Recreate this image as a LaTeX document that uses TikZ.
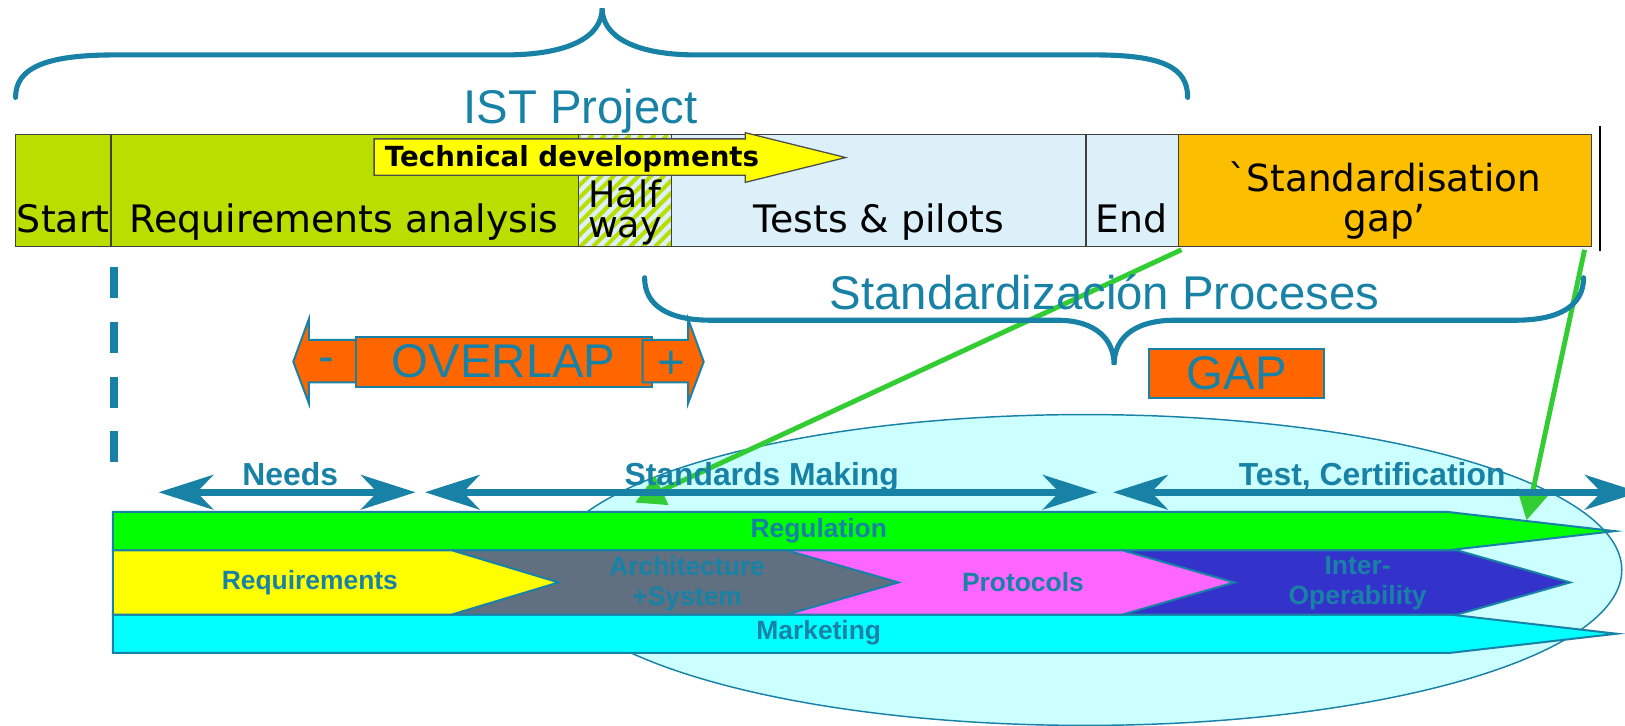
\documentclass[tikz,border=0pt]{standalone}
\usepackage{fontspec}
\setmainfont{Liberation Sans}
\newfontfamily\verdana{DejaVu Sans}
\usetikzlibrary{arrows.meta, positioning, calc}

\definecolor{istblue}{RGB}{24,130,166}
\definecolor{limeline}{RGB}{50,205,50}
\definecolor{phasegreen}{RGB}{186,222,0}
\definecolor{phaseblue}{RGB}{220,240,250}
\definecolor{phasegap}{RGB}{252,190,0}
\definecolor{overlaporange}{RGB}{255,102,0}
\definecolor{cloudcyan}{RGB}{204,255,255}
\definecolor{reggreen}{RGB}{0,255,0}
\definecolor{reqyellow}{RGB}{255,255,0}
\definecolor{archgray}{RGB}{96,112,128}
\definecolor{protopink}{RGB}{255,102,255}
\definecolor{interblue}{RGB}{51,51,204}
\definecolor{marketcyan}{RGB}{0,255,255}

\tikzset{
  phase/.style={draw=black!75, line width=0.7pt},
  phasetext/.style={font=\verdana\fontsize{20.8}{17}\selectfont, inner sep=0pt, anchor=base},
  bigblue/.style={text=istblue, font=\fontsize{26}{28}\selectfont, inner sep=0pt},
  curly/.style={draw=istblue, line width=2.8pt, line cap=round},
  orangebox/.style={draw=istblue, fill=overlaporange, line width=1.1pt},
  spanarrow/.style={draw=istblue, line width=4pt,
    arrows={Stealth[length=30pt,width=19pt,inset=9pt]-Stealth[length=30pt,width=19pt,inset=9pt]}},
  spantext/.style={text=istblue, font=\bfseries\fontsize{17.5}{19}\selectfont, inner sep=0pt, anchor=base},
  track/.style={draw=istblue, line width=1.1pt},
  tracktext/.style={text=istblue, font=\bfseries\fontsize{14.5}{16.5}\selectfont, align=center, inner sep=0pt},
  greenpointer/.style={draw=limeline, line width=2.7pt, arrows={-Triangle[length=16pt,width=17pt]}},
}

\begin{document}
\begin{tikzpicture}[x=0.02cm, y=-0.02cm, >=Latex]
  \useasboundingbox (0,0) rectangle (1568,700.5);

  % cloud behind the tracks
  \draw[istblue, line width=0.8pt, fill=cloudcyan] (1047,550) ellipse [x radius=10.36cm, y radius=3cm];

  % tracks
  \draw[track, fill=reggreen] (109,494) -- (1397,494) -- (1558,512.5) -- (1397,531) -- (109,531) -- cycle;
  \draw[track, fill=marketcyan] (109,593) -- (1399,593) -- (1560,611.5) -- (1399,630) -- (109,630) -- cycle;
  \draw[track, fill=interblue] (1081,531) -- (1406,531) -- (1515,562) -- (1406,593) -- (1081,593) -- cycle;
  \draw[track, fill=protopink] (759,531) -- (1083,531) -- (1191,562) -- (1083,593) -- (759,593) -- cycle;
  \draw[track, fill=archgray] (436,531) -- (759,531) -- (867,562) -- (759,593) -- (436,593) -- cycle;
  \draw[track, fill=reqyellow] (109,531) -- (436,531) -- (539,562) -- (436,593) -- (109,593) -- cycle;

  \node[tracktext] (regulation) at (790,512) {Regulation};
  \node[tracktext] (requirements) at (299,562) {Requirements};
  \node[tracktext] (architecture) at (663,563) {Architecture\\+System};
  \node[tracktext] (protocols) at (987,562) {Protocols};
  \node[tracktext] (interop) at (1310,563) {Inter-\\Operability};
  \node[tracktext] (marketing) at (790,611) {Marketing};

  % green pointers from the project bar
  \coordinate (endgap) at (1140,241);
  \coordinate (gapend) at (1529,241);
  \coordinate (makingtip) at (613,485);
  \coordinate (regtip) at (1473,502);
  \draw[greenpointer] (endgap) -- (makingtip);
  \draw[greenpointer] (gapend) -- (regtip);

  % braces
  \draw[curly] (15,94) .. controls (15,65) and (45,53) .. (111,53) -- (487,53)
    .. controls (550,53) and (581,35) .. (581,8) .. controls (581,35) and (612,53) .. (672,53)
    -- (1056,53) .. controls (1122,53) and (1146,65) .. (1146,94);
  \node[bigblue, anchor=base] (istproject) at (560,119) {IST Project};

  \draw[curly] (622,268) .. controls (622,295) and (645,309) .. (686,309) -- (1020,309)
    .. controls (1058,309) and (1075,328) .. (1075,352) .. controls (1075,328) and (1092,309) .. (1134,309)
    -- (1462,309) .. controls (1505,309) and (1528,295) .. (1528,268);
  \node[bigblue, anchor=base] (stdprocesses) at (1066,299) {Standardización Proceses};

  % phases of standardisation
  \coordinate (needsL) at (153,475);
  \coordinate (needsR) at (401,475);
  \coordinate (makingL) at (410,475);
  \coordinate (makingR) at (1059,475);
  \coordinate (testL) at (1074,475);
  \coordinate (testR) at (1582,475);
  \draw[spanarrow] (needsL) -- (needsR);
  \draw[spanarrow] (makingL) -- (makingR);
  \draw[spanarrow] (testL) -- (testR);
  \node[spantext] (needs) at (280,468) {Needs};
  \node[spantext] (making) at (735,468) {Standards Making};
  \node[spantext] (testcert) at (1324,468) {Test, Certification};

  % project bar
  \draw[phase, fill=phasegreen] (15,130) rectangle (107,238);
  \draw[phase, fill=phasegreen] (107,130) rectangle (558,238);
  \fill[phaseblue] (558,130) rectangle (648,238);
  \begin{scope}
    \clip (558,130) rectangle (648,238);
    \foreach \hx in {440,452,...,650}
      \draw[phasegreen, line width=2.2pt] (\hx,238) -- ++(108,-108);
  \end{scope}
  \draw[phase] (558,130) rectangle (648,238);
  \draw[phase, fill=phaseblue] (648,130) rectangle (1048,238);
  \draw[phase, fill=phaseblue] (1048,130) rectangle (1137,238);
  \draw[phase, fill=phasegap] (1137,130) rectangle (1536,238);
  \draw[black, line width=1.2pt] (1544,122) -- (1544,242);

  \draw[black!70, line width=0.7pt, fill=reqyellow] (361,134) -- (719,134) -- (719,128) -- (816,152)
    -- (719,176) -- (719,169) -- (361,169) -- cycle;
  \node[font=\verdana\bfseries\fontsize{15.2}{16}\selectfont, inner sep=0pt, anchor=base] (techdev) at (552,161) {Technical developments};

  \node[phasetext] (start) at (61,224) {Start};
  \node[phasetext] (reqanalysis) at (332,224) {Requirements analysis};
  \node[phasetext, anchor=south, align=center, font=\verdana\fontsize{20}{16.5}\selectfont] (halfway) at (603,237) {Half\\way};
  \node[phasetext] (tests) at (848,224) {Tests \& pilots};
  \node[phasetext] (endphase) at (1092,224) {End};
  \node[phasetext, anchor=south, align=center, font=\verdana\fontsize{20.5}{22}\selectfont] (stdgap) at (1336,231.5) {\char"60 Standardisation\\gap’};

  % start marker
  \coordinate (marktop) at (110,258);
  \coordinate (markbot) at (110,451);
  \draw[istblue, line width=4.5pt, dash pattern=on 17pt off 13pt] (marktop) -- (markbot);

  % overlap and gap
  \draw[orangebox] (283,349) -- (298,308) -- (298,328) -- (344,328) -- (344,369) -- (298,369) -- (298,389) -- cycle;
  \node[orangebox, bigblue, minimum width=5.72cm, minimum height=0.96cm] (overlap) at (486,349) {OVERLAP};
  \draw[orangebox] (620,328) -- (664,328) -- (664,308) -- (679,349) -- (664,389) -- (664,369) -- (620,369) -- cycle;
  \node[bigblue] (minus) at (315,352) {-};
  \node[bigblue] (plus) at (648,352) {+};
  \node[orangebox, bigblue, minimum width=3.38cm, minimum height=0.94cm] (gap) at (1193.5,360.5) {GAP};
\end{tikzpicture}
\end{document}
